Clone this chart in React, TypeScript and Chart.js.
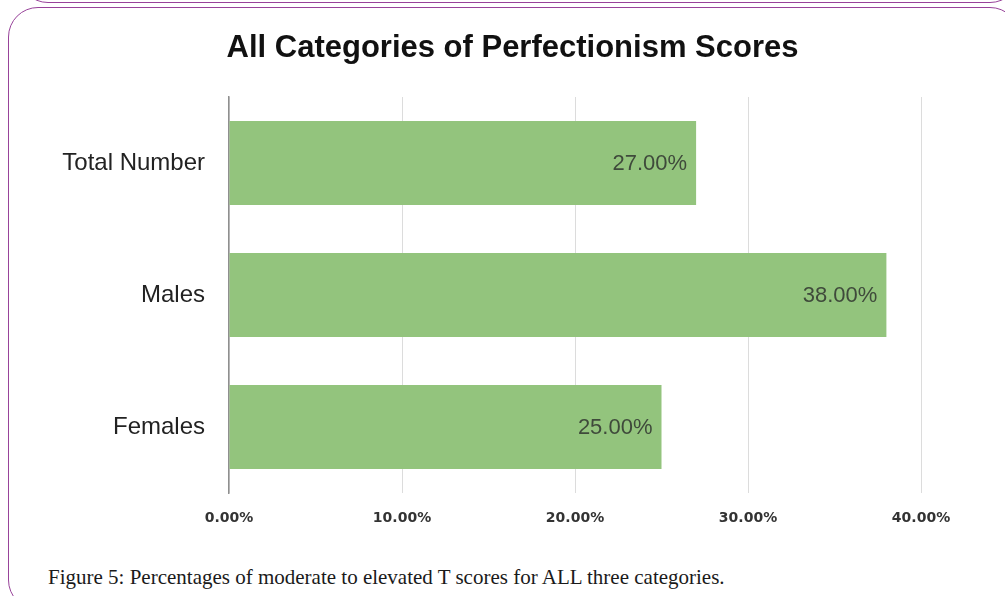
import React, { useEffect, useRef } from "react";
import { Chart, registerables } from "chart.js";

Chart.register(...registerables);

const categories = ["Total Number", "Males", "Females"];
const values = [27, 38, 25];
const tickValues = [0, 10, 20, 30, 40];
const titleText = "All Categories of Perfectionism Scores";
const captionText = "Figure 5: Percentages of moderate to elevated T scores for ALL three categories.";

const barLabelPlugin = {
  id: "barLabels",
  afterDatasetsDraw(chart: any) {
    const ctx = chart.ctx;
    const meta = chart.getDatasetMeta(0);
    ctx.save();
    ctx.font = '22px "Liberation Sans", Arial, sans-serif';
    ctx.fillStyle = "#3f4a3b";
    ctx.textAlign = "right";
    ctx.textBaseline = "middle";
    meta.data.forEach((bar: any, i: number) => {
      const v = chart.data.datasets[0].data[i];
      ctx.fillText(v.toFixed(2) + "%", bar.x - 9, bar.y + 1);
    });
    ctx.restore();
  },
};

const centeredTitlePlugin = {
  id: "centeredTitle",
  afterDraw(chart: any) {
    const ctx = chart.ctx;
    ctx.save();
    ctx.font = 'bold 31px "Liberation Sans", Arial, sans-serif';
    ctx.fillStyle = "#111";
    ctx.textAlign = "center";
    ctx.textBaseline = "middle";
    ctx.fillText(titleText, chart.width / 2, 48);
    ctx.restore();
  },
};

export default function App() {
  const ref = useRef<HTMLCanvasElement | null>(null);

  useEffect(() => {
    if (!ref.current) return;
    const chart = new Chart(ref.current, {
      type: "bar",
      data: {
        labels: categories,
        datasets: [
          {
            data: values,
            backgroundColor: "#93c47d",
            borderWidth: 0,
            barPercentage: 0.636,
            categoryPercentage: 1,
          },
        ],
      },
      plugins: [barLabelPlugin, centeredTitlePlugin],
      options: {
        indexAxis: "y",
        animation: false,
        responsive: false,
        maintainAspectRatio: false,
        layout: { padding: { left: 0, right: 84, top: 97, bottom: 0 } },
        plugins: {
          legend: { display: false },
          tooltip: { enabled: false },
          title: { display: false },
        },
        scales: {
          x: {
            min: 0,
            max: 40,
            afterFit: (s: any) => {
              s.height = 43;
            },
            afterBuildTicks: (s: any) => {
              s.ticks = tickValues.map((v) => ({ value: v }));
            },
            grid: { color: "#dcdcdc", lineWidth: 1, drawTicks: false },
            border: { display: false },
            ticks: {
              padding: 17,
              color: "#333",
              font: { family: '"DejaVu Sans", sans-serif', size: 14, weight: "bold" },
              callback: (v: any) => Number(v).toFixed(2) + "%",
            },
          },
          y: {
            afterFit: (s: any) => {
              s.width = 209;
            },
            grid: { display: false, drawTicks: false },
            border: { display: true, color: "#8f8f8f", width: 1.5 },
            ticks: {
              padding: 24,
              color: "#222",
              font: { family: '"Liberation Sans", Arial, sans-serif', size: 24 },
            },
          },
        },
      },
    });
    return () => chart.destroy();
  }, []);

  const border = "1.5px solid #98439a";

  return (
    <div
      style={{
        position: "fixed",
        left: 0,
        top: 0,
        width: 1005,
        height: 596,
        overflow: "hidden",
        background: "#fff",
      }}
    >
      <div
        style={{
          position: "absolute",
          left: 18,
          top: -100,
          width: 1002,
          height: 103,
          border,
          borderRadius: 30,
          boxSizing: "border-box",
        }}
      />
      <div
        style={{
          position: "absolute",
          left: 8,
          top: 7,
          width: 1012,
          height: 603,
          border,
          borderRadius: 30,
          boxSizing: "border-box",
        }}
      />
      <canvas
        ref={ref}
        width={985}
        height={536}
        style={{ position: "absolute", left: 20, top: 0, width: 985, height: 536 }}
      />
      <div
        style={{
          position: "absolute",
          left: 48,
          top: 565,
          fontFamily: '"Liberation Serif", "Times New Roman", serif',
          fontSize: 21,
          lineHeight: "25px",
          color: "#1a1a1a",
          whiteSpace: "nowrap",
        }}
      >
        {captionText}
      </div>
    </div>
  );
}
